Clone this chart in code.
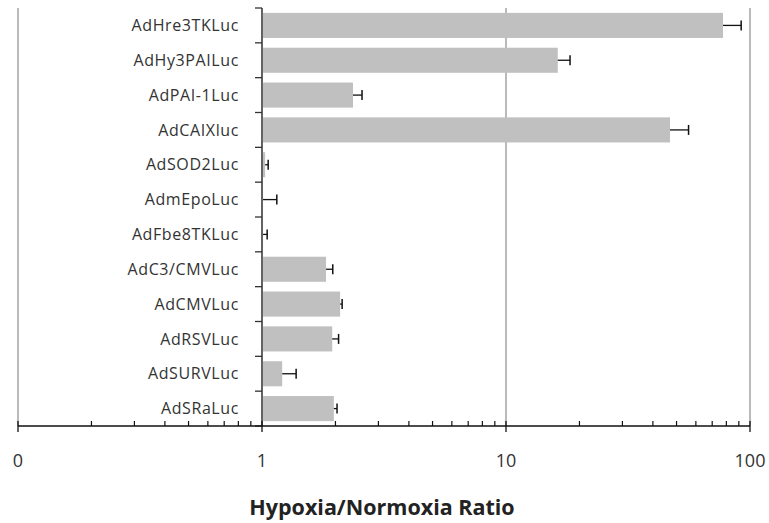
<!DOCTYPE html>
<html>
<head>
<meta charset="utf-8">
<script src="https://cdn.jsdelivr.net/npm/d3@7"></script>
<style>
  body { margin: 0; background: #fff; }
  text { font-family: "Open Sans", sans-serif; }
</style>
</head>
<body>
<div id="chart"></div>
<script>
// Data
const constructs = ["AdHre3TKLuc", "AdHy3PAILuc", "AdPAI-1Luc", "AdCAIXluc", "AdSOD2Luc", "AdmEpoLuc",
  "AdFbe8TKLuc", "AdC3/CMVLuc", "AdCMVLuc", "AdRSVLuc", "AdSURVLuc", "AdSRaLuc"];
const ratios = [77.5, 16.3, 2.36, 47, 1.03, 1.01, 1.01, 1.83, 2.09, 1.94, 1.21, 1.97];
const errors = [14.5, 2.0, 0.21, 9, 0.03, 0.14, 0.04, 0.12, 0.04, 0.12, 0.17, 0.06];
const tickValues = [0.1, 1, 10, 100];
const tickLabels = ["0", "1", "10", "100"];

// Dimensions
let dimensions = {
  width: 769,
  height: 523,
  top: 8,
  bottom: 426,
  left: 18,
  right: 750,
};

const svg = d3
  .select("#chart")
  .append("svg")
  .attr("width", dimensions.width)
  .attr("height", dimensions.height);

// Scales
const xScale = d3
  .scaleLog()
  .domain([0.1, 100])
  .range([dimensions.left, dimensions.right]);

const yScale = d3
  .scaleBand()
  .domain(constructs)
  .range([dimensions.top, dimensions.bottom])
  .paddingInner(0.28)
  .paddingOuter(0.14);

// gridlines at each decade
svg
  .append("g")
  .selectAll("line")
  .data(tickValues)
  .join("line")
  .attr("x1", (d) => xScale(d))
  .attr("x2", (d) => xScale(d))
  .attr("y1", dimensions.top)
  .attr("y2", dimensions.bottom)
  .attr("stroke", "#8c8c8c")
  .attr("stroke-width", 1.2);

// bars
svg
  .append("g")
  .selectAll("rect")
  .data(constructs)
  .join("rect")
  .attr("x", xScale(1))
  .attr("y", (d) => yScale(d))
  .attr("width", (d, i) => xScale(ratios[i]) - xScale(1))
  .attr("height", yScale.bandwidth())
  .attr("fill", "#c0c0c0");

// error bars (one sided)
const errG = svg
  .append("g")
  .selectAll("g")
  .data(constructs)
  .join("g")
  .attr("transform", (d) => `translate(0, ${yScale(d) + yScale.bandwidth() / 2})`);

errG
  .append("line")
  .attr("x1", (d, i) => xScale(ratios[i]))
  .attr("x2", (d, i) => xScale(ratios[i] + errors[i]))
  .attr("stroke", "#111")
  .attr("stroke-width", 1.3);

errG
  .append("line")
  .attr("x1", (d, i) => xScale(ratios[i] + errors[i]))
  .attr("x2", (d, i) => xScale(ratios[i] + errors[i]))
  .attr("y1", -5)
  .attr("y2", 5)
  .attr("stroke", "#111")
  .attr("stroke-width", 1.5);

// category axis (vertical line at ratio 1)
const boundaries = constructs.map((d) => yScale(d) - (yScale.step() - yScale.bandwidth()) / 2);
boundaries.push(dimensions.bottom);

const catAxis = svg.append("g");
catAxis
  .append("line")
  .attr("x1", xScale(1))
  .attr("x2", xScale(1))
  .attr("y1", dimensions.top)
  .attr("y2", dimensions.bottom)
  .attr("stroke", "#333")
  .attr("stroke-width", 1.3);

catAxis
  .selectAll(".ctick")
  .data(boundaries)
  .join("line")
  .attr("class", "ctick")
  .attr("x1", xScale(1) - 7)
  .attr("x2", xScale(1))
  .attr("y1", (d) => d)
  .attr("y2", (d) => d)
  .attr("stroke", "#333")
  .attr("stroke-width", 1.3);

catAxis
  .selectAll("text")
  .data(constructs)
  .join("text")
  .attr("x", 239)
  .attr("y", (d) => yScale(d) + yScale.bandwidth() / 2)
  .attr("dy", "0.35em")
  .attr("text-anchor", "end")
  .style("font-size", "16px")
  .style("letter-spacing", "0.6px")
  .style("fill", "#333")
  .text((d) => d);

// x axis (log)
const minorTicks = [];
[0.1, 1, 10].forEach((base) => {
  d3.range(2, 10).forEach((m) => minorTicks.push(base * m));
});

const gXAxis = svg
  .append("g")
  .attr("transform", `translate(0, ${dimensions.bottom})`);

gXAxis
  .append("line")
  .attr("x1", xScale(0.1))
  .attr("x2", xScale(100))
  .attr("stroke", "#111")
  .attr("stroke-width", 1.3);

gXAxis
  .selectAll(".minor")
  .data(minorTicks)
  .join("line")
  .attr("class", "minor")
  .attr("x1", (d) => xScale(d))
  .attr("x2", (d) => xScale(d))
  .attr("y1", -5)
  .attr("y2", 0)
  .attr("stroke", "#111")
  .attr("stroke-width", 1.2);

gXAxis
  .selectAll(".major")
  .data(tickValues)
  .join("line")
  .attr("class", "major")
  .attr("x1", (d) => xScale(d))
  .attr("x2", (d) => xScale(d))
  .attr("y1", -5)
  .attr("y2", 6)
  .attr("stroke", "#111")
  .attr("stroke-width", 1.3);

gXAxis
  .selectAll(".tlabel")
  .data(tickValues)
  .join("text")
  .attr("class", "tlabel")
  .attr("x", (d) => xScale(d))
  .attr("y", 35)
  .attr("dy", "0.35em")
  .attr("text-anchor", "middle")
  .style("font-size", "18px")
  .style("fill", "#333")
  .text((d, i) => tickLabels[i]);

// axis title
svg
  .append("text")
  .attr("x", 382)
  .attr("y", 507)
  .attr("dy", "0.35em")
  .attr("text-anchor", "middle")
  .style("font-size", "21.5px")
  .style("font-weight", "bold")
  .style("fill", "#222")
  .text("Hypoxia/Normoxia Ratio");
</script>
</body>
</html>
